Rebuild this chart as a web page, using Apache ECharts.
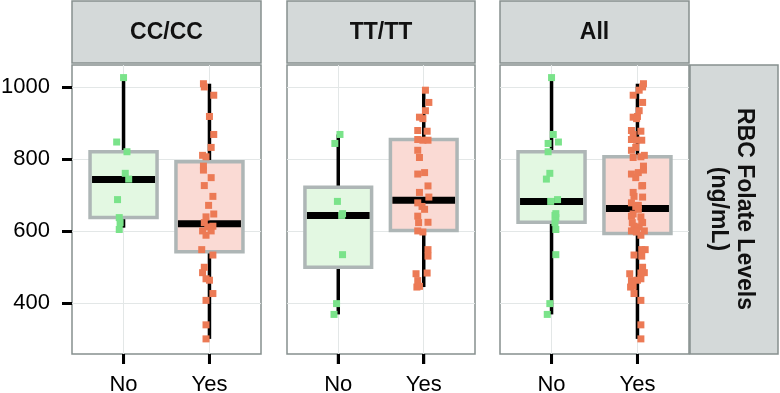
<!DOCTYPE html>
<html>
<head>
<meta charset="utf-8">
<script src="https://cdn.jsdelivr.net/npm/echarts@6/dist/echarts.min.js"></script>
<style>html,body{margin:0;padding:0;background:#fff}#c{width:780px;height:393px}</style>
</head>
<body>
<div id="c"></div>
<script>
// ---- data ----
const panels = ['CC/CC', 'TT/TT', 'All'];
const groups = ['No', 'Yes'];
const yTicks = [400, 600, 800, 1000];
const stripLabel = 'RBC Folate Levels\n(ng/mL)';

// box stats: [min, q1, median, q3, max]
const boxCCNo  = [609, 637, 743, 820, 1026];
const boxCCYes = [300, 542, 620, 792, 1009];
const boxTTNo  = [368, 499, 643, 721, 868];
const boxTTYes = [444, 601, 685, 854, 991];
const boxAllNo  = [368, 624, 682, 820, 1026];
const boxAllYes = [300, 593, 662, 806, 1009];

// individual points
const ptsCCNo  = [1026, 847, 820, 760, 744, 687, 637, 623, 604];
const ptsCCYes = [1009, 1000, 977, 918, 868, 832, 810, 806, 780, 769, 748, 726, 696, 671, 647, 639,
                  623, 613, 611, 600, 600, 588, 548, 533, 499, 484, 467, 463, 426, 407, 339, 300];
const ptsTTNo  = [868, 843, 682, 643, 648, 534, 398, 368];
const ptsTTYes = [991, 957, 934, 916, 912, 879, 877, 854, 852, 852, 824, 804, 758, 762, 725, 707,
                  694, 678, 668, 660, 641, 624, 623, 600, 597, 548, 530, 483, 481, 462, 444, 446];

// horizontal jitter (category units)
const jitCCNo  = [0, -0.08, 0.04, 0.02, 0.06, -0.07, -0.05, -0.04, -0.05];
const jitCCYes = [-0.07,-0.06,0.05,0,0.05,0.02,-0.08,-0.04,-0.07,-0.07,0.02,-0.06,0.04,-0.01,0.05,-0.04,
                  -0.06,0.04,-0.02,-0.08,0.02,-0.04,-0.09,0.04,-0.06,-0.08,-0.04,0,0.04,-0.04,-0.04,-0.04];
const jitTTNo  = [0.02, -0.04, -0.01, 0.04, 0.05, 0.05, -0.02, -0.05];
const jitTTYes = [0.02,0.06,0.02,-0.05,-0.01,-0.07,0.04,-0.07,-0.01,0.05,-0.07,-0.05,-0.07,0.01,0.05,-0.05,
                  0.06,-0.07,-0.02,0.01,-0.07,0.05,-0.06,-0.07,-0.01,0.05,0.05,0.04,-0.09,-0.07,-0.08,-0.05];

const ptsAllNo  = ptsCCNo.concat(ptsTTNo);
const ptsAllYes = ptsCCYes.concat(ptsTTYes);
const jitAllNo  = jitCCNo.map(v => -v).concat(jitTTNo);
const jitAllYes = jitCCYes.map(v => -v).concat(jitTTYes);

const panelBoxes = [[boxCCNo, boxCCYes], [boxTTNo, boxTTYes], [boxAllNo, boxAllYes]];
const panelPts = [[ptsCCNo, ptsCCYes], [ptsTTNo, ptsTTYes], [ptsAllNo, ptsAllYes]];
const panelJit = [[jitCCNo, jitCCYes], [jitTTNo, jitTTYes], [jitAllNo, jitAllYes]];

// ---- styles ----
const pointColors = ['#7ae38a', '#ec7a55'];
const boxFills = ['#e3f8e2', '#fadad4'];
const boxStroke = '#aeb6b6';
const panelBorder = '#86908f';
const stripFill = '#d4d9d9';
const gridColor = '#e3e7e7';
const FONT = '"Liberation Sans", Arial, sans-serif';
const BOX_W = 0.78;
const X_MIN = 0.4, X_MAX = 2.6, Y_MIN = 258, Y_MAX = 1061;

const gridPos = [
  {left: 72, width: 189},
  {left: 287, width: 188},
  {left: 500, width: 189}
];
const TOP = 65, H = 289;

const grids = [], xAxes = [], yAxes = [], series = [], graphics = [];

gridPos.forEach((g, i) => {
  grids.push({left: g.left, top: TOP, width: g.width, height: H, show: true,
    outerBoundsMode: 'none',
    borderColor: panelBorder, borderWidth: 1.5});
  xAxes.push({
    type: 'value', gridIndex: i, min: X_MIN, max: X_MAX,
    axisLine: {show: false},
    axisTick: {show: true, customValues: [1, 2], length: 10, lineStyle: {color: '#000', width: 3}},
    axisLabel: {show: true, customValues: [1, 2], formatter: v => groups[Math.round(v) - 1],
      fontSize: 22, color: '#000', fontFamily: FONT, margin: 20},
    splitLine: {show: true, lineStyle: {color: gridColor, width: 1}}
  });
  yAxes.push({
    type: 'value', gridIndex: i, min: Y_MIN, max: Y_MAX,
    axisLine: {show: false},
    axisTick: {show: i === 0, customValues: yTicks, length: 10, lineStyle: {color: '#000', width: 3}},
    axisLabel: {show: i === 0, customValues: yTicks, formatter: v => String(v),
      fontSize: 22, color: '#000', fontFamily: FONT, margin: 22},
    splitLine: {show: true, lineStyle: {color: gridColor, width: 1}}
  });

  // boxes
  series.push({
    type: 'custom', xAxisIndex: i, yAxisIndex: i, z: 2,
    data: panelBoxes[i].map((b, k) => [k + 1].concat(b)),
    renderItem: (params, api) => {
      const x = api.value(0);
      const lo = api.value(1), q1 = api.value(2), med = api.value(3), q3 = api.value(4), hi = api.value(5);
      const pHi = api.coord([x, hi]), pQ3 = api.coord([x, q3]), pQ1 = api.coord([x, q1]), pLo = api.coord([x, lo]);
      const tl = api.coord([x - BOX_W / 2, q3]), br = api.coord([x + BOX_W / 2, q1]);
      const mL = api.coord([x - BOX_W / 2, med]), mR = api.coord([x + BOX_W / 2, med]);
      const fill = boxFills[Math.round(x) - 1];
      return {type: 'group', children: [
        {type: 'line', shape: {x1: pHi[0], y1: pHi[1], x2: pQ3[0], y2: pQ3[1]}, style: {stroke: '#000', lineWidth: 3.5}},
        {type: 'line', shape: {x1: pQ1[0], y1: pQ1[1], x2: pLo[0], y2: pLo[1]}, style: {stroke: '#000', lineWidth: 3.5}},
        {type: 'rect', shape: {x: tl[0], y: tl[1], width: br[0] - tl[0], height: br[1] - tl[1]},
          style: {fill: fill, stroke: boxStroke, lineWidth: 3.5}},
        {type: 'line', shape: {x1: mL[0] + 2, y1: mL[1], x2: mR[0] - 2, y2: mR[1]}, style: {stroke: '#000', lineWidth: 7}}
      ]};
    }
  });

  // x tick marks under each group, placed through the axis scale, on their own layer
  series.push({
    type: 'custom', xAxisIndex: i, yAxisIndex: i, zlevel: 1, z: 100, clip: false, silent: true,
    data: groups.map((name, k) => [k + 1]),
    renderItem: (params, api) => {
      const p = api.coord([api.value(0), Y_MIN]);
      return {type: 'rect', shape: {x: p[0] - 1.5, y: p[1], width: 3, height: 10},
        style: {fill: '#000'}};
    }
  });

  // points
  [0, 1].forEach(k => {
    series.push({
      type: 'scatter', xAxisIndex: i, yAxisIndex: i, z: 5,
      symbol: 'rect', symbolSize: 7,
      itemStyle: {color: pointColors[k], opacity: 1},
      data: panelPts[i][k].map((v, j) => [k + 1 + panelJit[i][k][j], v])
    });
  });

  // header strip
  graphics.push({
    type: 'rect', shape: {x: g.left, y: 1, width: g.width, height: 62},
    style: {fill: stripFill, stroke: panelBorder, lineWidth: 1.5}
  });
  graphics.push({
    type: 'text', x: g.left + g.width / 2, y: 33,
    style: {text: panels[i], fontSize: 23, fontWeight: 'bold', fontFamily: FONT, fill: '#111',
      align: 'center', verticalAlign: 'middle'}
  });
});

// right strip
graphics.push({
  type: 'rect', shape: {x: 690, y: TOP, width: 88, height: H},
  style: {fill: stripFill, stroke: panelBorder, lineWidth: 1.5}
});
graphics.push({
  type: 'text', x: 731, y: 209, rotation: -Math.PI / 2,
  style: {text: stripLabel, fontSize: 23, fontWeight: 'bold', fontFamily: FONT, fill: '#111',
    align: 'center', verticalAlign: 'middle', lineHeight: 26}
});

const chart = echarts.init(document.getElementById('c'), null, {renderer: 'canvas'});
chart.setOption({
  animation: false,
  grid: grids, xAxis: xAxes, yAxis: yAxes, series: series,
  graphic: graphics
});
</script>
</body>
</html>
